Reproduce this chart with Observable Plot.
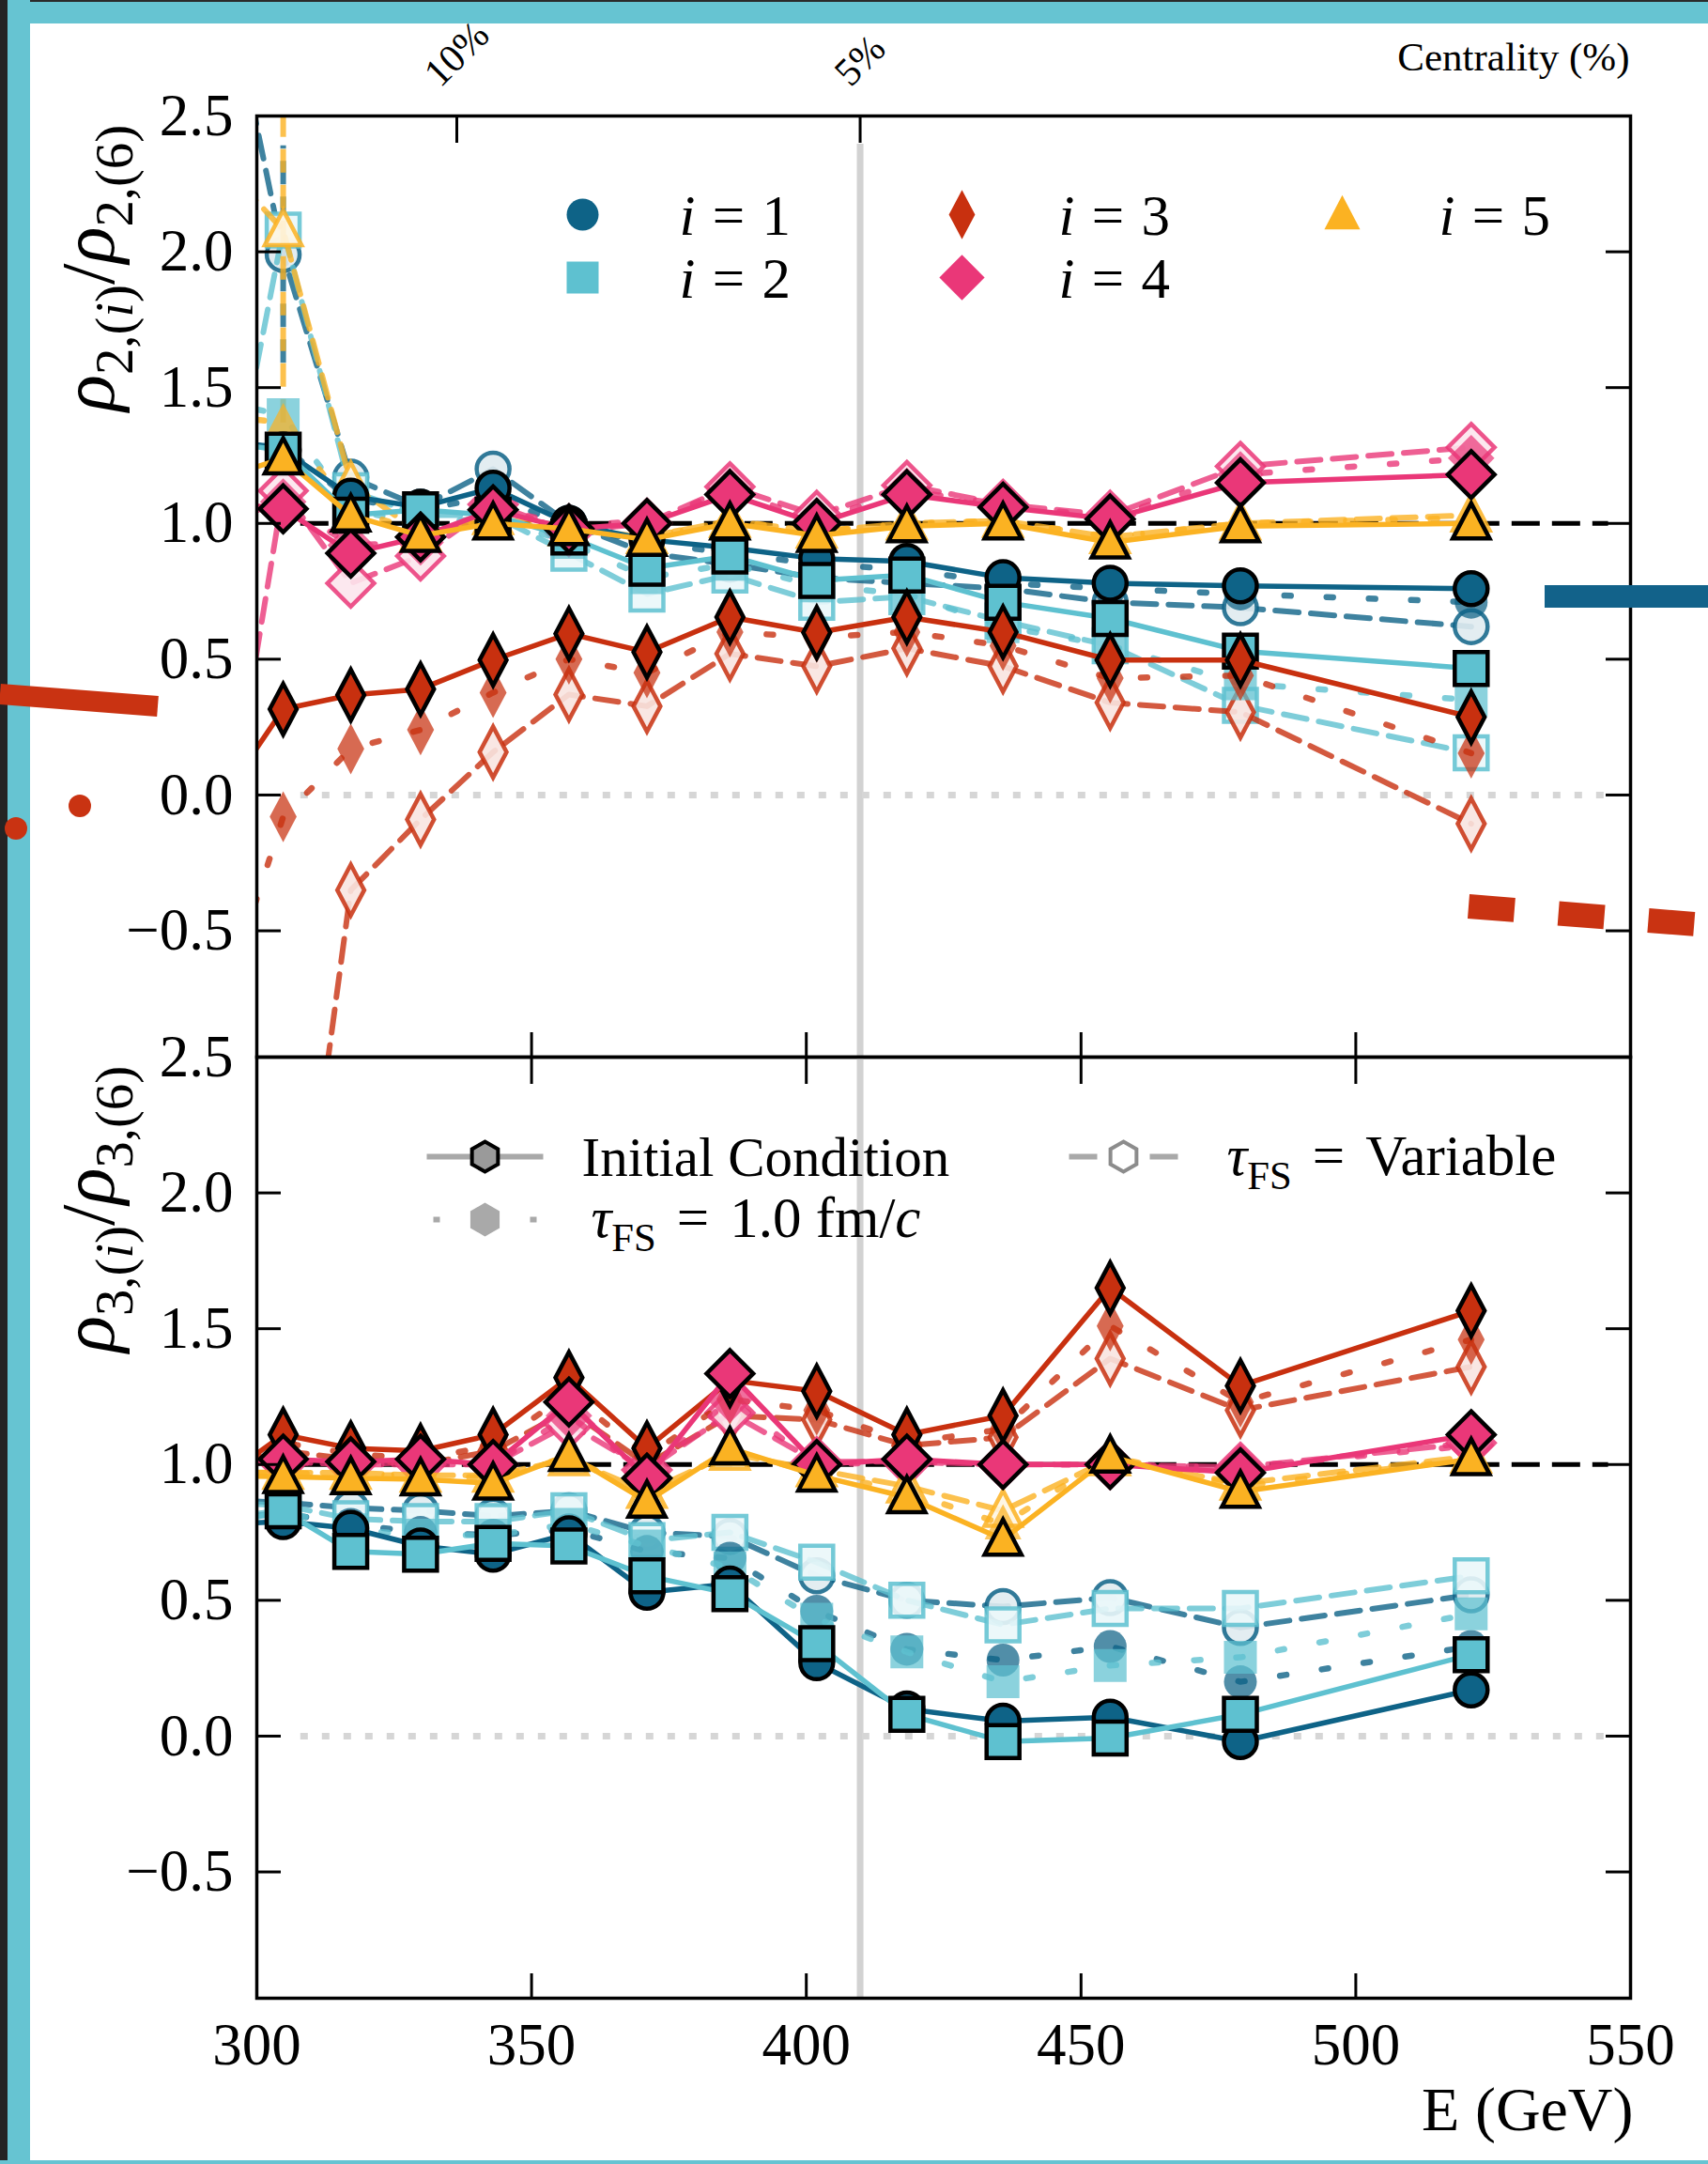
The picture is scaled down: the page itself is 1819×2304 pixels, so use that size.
<!DOCTYPE html>
<html>
<head>
<meta charset="utf-8">
<title>ρ ratios versus collision energy</title>
<script src="https://cdn.jsdelivr.net/npm/d3@7"></script>
<script src="https://cdn.jsdelivr.net/npm/@observablehq/plot@0.6"></script>
<style>
  html, body { margin: 0; padding: 0; background: #fff; }
  #page { position: relative; width: 1819px; height: 2304px; overflow: hidden; background: #fff; }
  #page .edge { position: absolute; }
  #page svg.panel { position: absolute; left: 0; overflow: visible; max-width: none; }
  #decor { position: absolute; left: 0; top: 0; pointer-events: none; }
</style>
</head>
<body>
<div id="page">
  <div class="edge" style="left:0;top:0;width:1819px;height:25px;background:#66c4d2;border-top:2px solid #2b2b2b;box-sizing:border-box"></div>
  <div class="edge" style="left:0;top:0;width:8px;height:2304px;background:#242424"></div>
  <div class="edge" style="left:8px;top:0;width:24px;height:2304px;background:#66c4d2"></div>
  <div class="edge" style="left:0;top:2300px;width:1819px;height:4px;background:#66c4d2"></div>
</div>
<script>
// ---------------------------------------------------------------------------
// Data: collision energy (GeV) and the ratios rho_{n,(i)} / rho_{n,(6)}
// for i = 1..5, for three set-ups: initial condition, tau_FS = 1.0 fm/c,
// and variable free-streaming time.
// ---------------------------------------------------------------------------
const energy = [292.5, 304.8, 317.1, 329.8, 343.0, 356.8, 371.0, 386.1, 401.9, 418.3, 435.8, 455.3, 479.0, 521.0];

const xTicks = [300, 350, 400, 450, 500, 550];
const xInnerTicks = [350, 400, 450, 500];
const yTicks = [-0.5, 0, 0.5, 1, 1.5, 2, 2.5];
const centralityLabels = ["10%", "5%"];
const centralityEnergy = [336.4, 409.8];
const seriesLabels = ["i = 1", "i = 2", "i = 3", "i = 4", "i = 5"];
const setupLabels = ["Initial Condition", "τFS = 1.0 fm/c", "τFS = Variable"];

// rho_2 ratios (upper panel)
const rho2_i1_init = [1.32, 1.27, 1.10, 1.06, 1.13, 1.00, 0.94, 0.91, 0.87, 0.86, 0.80, 0.78, 0.77, 0.76];
const rho2_i1_fs   = [1.30, 1.28, 1.09, 1.05, 1.10, 0.99, 0.93, 0.89, 0.85, 0.83, 0.78, 0.76, 0.74, 0.71];
const rho2_i1_var  = [3.20, 1.99, 1.17, 1.06, 1.20, 1.00, 0.89, 0.85, 0.80, 0.78, 0.76, 0.71, 0.69, 0.62];
const rho2_i2_init = [1.30, 1.27, 1.03, 1.05, 1.03, 0.95, 0.835, 0.88, 0.79, 0.81, 0.71, 0.65, 0.53, 0.466];
const rho2_i2_fs   = [1.45, 1.40, 1.05, 1.00, 1.02, 0.93, 0.80, 0.85, 0.77, 0.74, 0.62, 0.55, 0.41, 0.35];
const rho2_i2_var  = [0.80, 2.08, 1.12, 1.03, 1.03, 0.89, 0.74, 0.81, 0.71, 0.73, 0.64, 0.55, 0.33, 0.155];
const rho2_i3_init = [-0.05, 0.316, 0.368, 0.39, 0.497, 0.594, 0.526, 0.655, 0.598, 0.655, 0.60, 0.497, 0.497, 0.287];
const rho2_i3_fs   = [-0.85, -0.08, 0.17, 0.24, 0.377, 0.50, 0.45, 0.60, 0.58, 0.60, 0.55, 0.43, 0.44, 0.154];
const rho2_i3_var  = [-4.0, -2.2, -0.35, -0.09, 0.158, 0.37, 0.327, 0.52, 0.474, 0.54, 0.474, 0.34, 0.305, -0.106];
const rho2_i4_init = [1.08, 1.054, 0.89, 0.95, 1.05, 0.98, 1.00, 1.106, 1.00, 1.106, 1.06, 1.016, 1.15, 1.18];
const rho2_i4_fs   = [1.00, 1.08, 0.92, 0.93, 1.06, 0.99, 1.01, 1.12, 1.01, 1.12, 1.07, 1.02, 1.18, 1.24];
const rho2_i4_var  = [-0.40, 1.12, 0.78, 0.88, 1.07, 0.97, 1.00, 1.135, 1.03, 1.14, 1.07, 1.03, 1.21, 1.28];
const rho2_i5_init = [1.16, 1.24, 1.03, 0.955, 1.00, 0.98, 0.94, 1.00, 0.955, 0.99, 1.00, 0.93, 0.99, 1.00];
const rho2_i5_fs   = [1.40, 1.37, 1.05, 0.97, 1.01, 0.99, 0.95, 1.01, 0.97, 1.00, 1.01, 0.95, 1.00, 1.02];
const rho2_i5_var  = [2.35, 2.08, 1.15, 0.96, 1.02, 0.98, 0.95, 1.01, 0.97, 1.00, 1.01, 0.95, 1.00, 1.03];
// statistical uncertainty on the variable-tau points (only the first bin is sizeable)
const rho2_i1_var_err = [0, 0.40, 0, 0, 0, 0, 0, 0, 0, 0, 0, 0, 0, 0];
const rho2_i5_var_err = [0, 0.71, 0, 0, 0, 0, 0, 0, 0, 0, 0, 0, 0, 0];

// rho_3 ratios (lower panel)
const rho3_i1_init = [0.78, 0.79, 0.765, 0.70, 0.67, 0.745, 0.53, 0.56, 0.27, 0.10, 0.055, 0.07, -0.02, 0.17];
const rho3_i1_fs   = [0.80, 0.82, 0.78, 0.75, 0.74, 0.76, 0.68, 0.655, 0.46, 0.32, 0.28, 0.33, 0.20, 0.33];
const rho3_i1_var  = [0.87, 0.86, 0.84, 0.83, 0.81, 0.83, 0.75, 0.735, 0.59, 0.50, 0.477, 0.51, 0.40, 0.52];
const rho3_i2_init = [0.77, 0.83, 0.68, 0.67, 0.71, 0.70, 0.59, 0.525, 0.34, 0.08, -0.02, -0.007, 0.08, 0.30];
const rho3_i2_fs   = [0.80, 0.83, 0.76, 0.74, 0.74, 0.78, 0.70, 0.62, 0.43, 0.31, 0.20, 0.26, 0.29, 0.45];
const rho3_i2_var  = [0.86, 0.85, 0.80, 0.79, 0.79, 0.83, 0.72, 0.75, 0.64, 0.50, 0.41, 0.47, 0.47, 0.59];
const rho3_i3_init = [0.93, 1.11, 1.06, 1.05, 1.11, 1.32, 1.06, 1.31, 1.27, 1.11, 1.18, 1.65, 1.29, 1.566];
const rho3_i3_fs   = [0.95, 1.08, 1.04, 1.02, 1.07, 1.26, 1.03, 1.24, 1.20, 1.08, 1.13, 1.51, 1.23, 1.46];
const rho3_i3_var  = [0.97, 1.05, 1.02, 1.00, 1.05, 1.20, 1.00, 1.18, 1.165, 1.07, 1.10, 1.39, 1.20, 1.36];
const rho3_i4_init = [1.00, 1.02, 1.01, 1.02, 1.00, 1.23, 0.95, 1.335, 1.00, 1.02, 1.00, 1.00, 0.97, 1.11];
const rho3_i4_fs   = [1.00, 1.01, 1.00, 1.01, 1.00, 1.18, 0.97, 1.24, 1.00, 1.01, 1.00, 1.00, 0.99, 1.07];
const rho3_i4_var  = [1.00, 1.01, 1.00, 1.00, 1.00, 1.15, 0.98, 1.19, 1.01, 1.01, 1.00, 1.00, 0.99, 1.08];
const rho3_i5_init = [0.96, 0.955, 0.95, 0.946, 0.93, 1.036, 0.864, 1.06, 0.96, 0.88, 0.724, 1.03, 0.90, 1.02];
const rho3_i5_fs   = [0.97, 0.97, 0.96, 0.96, 0.95, 1.03, 0.88, 1.05, 0.97, 0.90, 0.78, 1.03, 0.92, 1.02];
const rho3_i5_var  = [0.97, 0.97, 0.97, 0.96, 0.96, 1.02, 0.90, 1.04, 0.98, 0.92, 0.83, 1.02, 0.93, 1.03];

// ---------------------------------------------------------------------------
// Layout and style
// ---------------------------------------------------------------------------
const PAGE_W = 1819;
const LEFT = 273, RIGHT = 1736;           // frame edges (px)
const TOP1 = 123, SPLIT = 1125, BOTTOM2 = 2127;
const PLOT_W = RIGHT - LEFT, PLOT_H = SPLIT - TOP1;
const TICK = 26;
const X_DOMAIN = [300, 550];
const Y_DOMAIN = [-0.965, 2.5];
const SERIF = "'Liberation Serif', 'Times New Roman', 'DejaVu Serif', serif";
const TICK_FS = 63, LEGEND_FS = 59;
const MARKER_R = 17.5;

const COLORS = ["#0e6387", "#5ec1d0", "#c8300f", "#ea3778", "#fbb222"];

// marker shapes: symbol objects whose size is r²π
const sym = f => ({draw(ctx, size) { f(ctx, Math.sqrt(size / Math.PI)); }});
const circleSym = sym((c, r) => { c.moveTo(r, 0); c.arc(0, 0, r, 0, 2 * Math.PI); });
const squareSym = sym((c, r) => { const h = 1.0 * r; c.rect(-h, -h, 2 * h, 2 * h); });
const thinDiamondSym = sym((c, r) => { const w = 0.82 * r, h = 1.55 * r; c.moveTo(0, -h); c.lineTo(w, 0); c.lineTo(0, h); c.lineTo(-w, 0); c.closePath(); });
const diamondSym = sym((c, r) => { const h = 1.42 * r; c.moveTo(0, -h); c.lineTo(h, 0); c.lineTo(0, h); c.lineTo(-h, 0); c.closePath(); });
const triangleSym = sym((c, r) => { c.moveTo(0, -1.22 * r); c.lineTo(1.12 * r, 0.92 * r); c.lineTo(-1.12 * r, 0.92 * r); c.closePath(); });
const hexagonSym = sym((c, r) => {
  for (let k = 0; k < 6; ++k) {
    const a = (-90 + 60 * k) * Math.PI / 180;
    k ? c.lineTo(r * Math.cos(a), r * Math.sin(a)) : c.moveTo(r * Math.cos(a), r * Math.sin(a));
  }
  c.closePath();
});
const hLine = half => ({draw(ctx) { ctx.moveTo(-half, 0); ctx.lineTo(half, 0); }});
const SHAPES = [circleSym, squareSym, thinDiamondSym, diamondSym, triangleSym];

const tint = (color, t) => d3.interpolateRgb("#ffffff", color)(t);

const LINE_STYLE = {
  init: {strokeWidth: 5.5},
  fs:   {strokeWidth: 6.5, strokeOpacity: 0.8, strokeDasharray: "7,38"},
  vary: {strokeWidth: 6, strokeOpacity: 0.8, strokeDasharray: "25,13"}
};
const dotStyle = (cond, color) => cond === "init"
  ? {fill: color, stroke: "black", strokeWidth: 4.5}
  : cond === "fs"
  ? {fill: color, fillOpacity: 0.72}
  : {fill: tint(color, 0.13), fillOpacity: 0.9, stroke: color, strokeOpacity: 0.85, strokeWidth: 4.5};

// series grouped per harmonic
const rho2Series = [
  {init: rho2_i1_init, fs: rho2_i1_fs, vary: rho2_i1_var, err: rho2_i1_var_err},
  {init: rho2_i2_init, fs: rho2_i2_fs, vary: rho2_i2_var},
  {init: rho2_i3_init, fs: rho2_i3_fs, vary: rho2_i3_var},
  {init: rho2_i4_init, fs: rho2_i4_fs, vary: rho2_i4_var},
  {init: rho2_i5_init, fs: rho2_i5_fs, vary: rho2_i5_var, err: rho2_i5_var_err}
];
const rho3Series = [
  {init: rho3_i1_init, fs: rho3_i1_fs, vary: rho3_i1_var},
  {init: rho3_i2_init, fs: rho3_i2_fs, vary: rho3_i2_var},
  {init: rho3_i3_init, fs: rho3_i3_fs, vary: rho3_i3_var},
  {init: rho3_i4_init, fs: rho3_i4_fs, vary: rho3_i4_var},
  {init: rho3_i5_init, fs: rho3_i5_fs, vary: rho3_i5_var}
];

function seriesMarks(table) {
  const marks = [];
  for (const cond of ["vary", "fs", "init"]) {
    table.forEach((row, s) => {
      const color = COLORS[s];
      const data = energy.map((E, k) => ({E, v: row[cond][k], e: cond === "vary" && row.err ? row.err[k] : 0}));
      marks.push(Plot.line(data, {x: "E", y: "v", stroke: color, clip: true, ...LINE_STYLE[cond]}));
      if (cond === "vary" && row.err) {
        marks.push(Plot.ruleX(data.filter(d => d.e > 0), {
          x: "E", y1: d => d.v - d.e, y2: d => d.v + d.e, stroke: color, clip: true, ...LINE_STYLE.vary
        }));
      }
      marks.push(Plot.dot(data, {x: "E", y: "v", symbol: SHAPES[s], r: MARKER_R, clip: true, ...dotStyle(cond, color)}));
    });
  }
  return marks;
}

const fmtY = d => (d < 0 ? "\u2212" : "") + Math.abs(d).toFixed(1);

function referenceMarks(grayTop) {
  return [
    Plot.ruleX([centralityEnergy[1]], {x: d => d, y1: Y_DOMAIN[0], y2: grayTop, stroke: "#d2d2d2", strokeWidth: 7}),
    Plot.ruleY([0], {y: d => d, x1: 308, x2: 546, stroke: "#d6d6d6", strokeWidth: 7, strokeDasharray: "8,15"}),
    Plot.ruleY([1], {y: d => d, x1: 308, x2: 546, stroke: "black", strokeWidth: 5, strokeDasharray: "30,13"})
  ];
}

function frameMarks({topTicks, bottomTicks}) {
  return [
    Plot.frame({stroke: "black", strokeWidth: 3.5}),
    Plot.tickY(yTicks, {y: d => d, stroke: "black", strokeWidth: 3, insetRight: PLOT_W - TICK}),
    Plot.tickY(yTicks, {y: d => d, stroke: "black", strokeWidth: 3, insetLeft: PLOT_W - TICK}),
    Plot.tickX(topTicks, {x: d => d, stroke: "black", strokeWidth: 3, insetBottom: PLOT_H - TICK - 3}),
    Plot.tickX(bottomTicks, {x: d => d, stroke: "black", strokeWidth: 3, insetTop: PLOT_H - TICK}),
    Plot.text(yTicks, {x: X_DOMAIN[0], y: d => d, text: fmtY, textAnchor: "end", lineAnchor: "middle", dx: -25, fontSize: TICK_FS, fontFamily: SERIF})
  ];
}

function panelSvg({marks, height, marginTop, marginBottom}) {
  const svg = Plot.plot({
    width: PAGE_W, height, marginLeft: LEFT, marginRight: PAGE_W - RIGHT, marginTop, marginBottom,
    x: {domain: X_DOMAIN, axis: null},
    y: {domain: Y_DOMAIN, axis: null},
    style: {background: "transparent", fontFamily: SERIF, overflow: "visible"},
    marks
  });
  svg.classList.add("panel");
  return svg;
}

// ---- upper panel: rho_2 ------------------------------------------------------
const LEG_COL = [347, 751, 1156], LEG_ROW = [105, 172], LEG_GAP = 103;
const legendSlots = [[0, 0], [0, 1], [1, 0], [1, 1], [2, 0]];
const topLegend = seriesLabels.flatMap((label, s) => {
  const [col, row] = legendSlots[s];
  const dx = LEG_COL[col], dy = LEG_ROW[row];
  return [
    Plot.dot([label], {frameAnchor: "top-left", dx, dy, symbol: SHAPES[s], r: 17, fill: COLORS[s]}),
    Plot.text([label], {frameAnchor: "top-left", dx: dx + LEG_GAP, dy: dy + 2, text: d => d, textAnchor: "start", lineAnchor: "middle", fontSize: 61, fontFamily: SERIF})
  ];
});

// centrality labels along the top edge, tilted
const centralityMarks = centralityLabels.map((label, k) => Plot.text([label], {
  x: centralityEnergy[k], y: Y_DOMAIN[1], text: d => d, rotate: -45, lineAnchor: "middle",
  dy: -(45 + 7 * label.length), fontSize: 42, fontFamily: SERIF
}));

const topSvg = panelSvg({
  height: SPLIT + 5, marginTop: TOP1, marginBottom: 5,
  marks: [
    ...referenceMarks(2.396),
    ...seriesMarks(rho2Series),
    ...topLegend,
    ...frameMarks({topTicks: centralityEnergy, bottomTicks: xInnerTicks}),
    ...centralityMarks,
    Plot.text(["Centrality (%)"], {frameAnchor: "top-right", dx: -1, dy: -62, text: d => d, textAnchor: "end", lineAnchor: "middle", fontSize: 43, fontFamily: SERIF}),
    Plot.text(["ρ2,(i)/ρ2,(6)"], {x: X_DOMAIN[0], y: 1.94, dx: -178, rotate: -90, lineAnchor: "middle", text: d => d, fontSize: 81, fontFamily: SERIF})
  ]
});
topSvg.style.top = "0px";

// ---- lower panel: rho_3 ------------------------------------------------------
const legendText = (label, dx, dy, fontSize) => Plot.text([label], {
  frameAnchor: "top-left", dx, dy, text: d => d, textAnchor: "start", lineAnchor: "middle", fontSize, fontFamily: SERIF
});
const setupLegend = [
  // initial condition
  Plot.dot([0], {frameAnchor: "top-left", dx: 243, dy: 106, symbol: hLine(62), stroke: "#a9a9a9", strokeWidth: 6}),
  Plot.dot([0], {frameAnchor: "top-left", dx: 243, dy: 106, symbol: hexagonSym, r: 16, fill: "#9a9a9a", stroke: "black", strokeWidth: 4}),
  // tau_FS = 1.0 fm/c
  Plot.dot([0], {frameAnchor: "top-left", dx: 243, dy: 173, symbol: hLine(55), stroke: "#a9a9a9", strokeWidth: 6, strokeDasharray: "7,44.5"}),
  Plot.dot([0], {frameAnchor: "top-left", dx: 243, dy: 173, symbol: hexagonSym, r: 18, fill: "#a9a9a9"}),
  // variable tau_FS
  Plot.dot([0], {frameAnchor: "top-left", dx: 923, dy: 106, symbol: hLine(58), stroke: "#a9a9a9", strokeWidth: 6, strokeDasharray: "30,13"}),
  Plot.dot([0], {frameAnchor: "top-left", dx: 923, dy: 106, symbol: hexagonSym, r: 16, fill: "white", stroke: "#8c8c8c", strokeWidth: 4}),
  legendText(setupLabels[0], 346, 108, LEGEND_FS),
  legendText(setupLabels[1], 356, 172, 61),
  legendText(setupLabels[2], 1033, 106, 61)
];

const bottomSvg = panelSvg({
  height: 2304 - (SPLIT - 5), marginTop: 5, marginBottom: 2304 - BOTTOM2,
  marks: [
    ...referenceMarks(Y_DOMAIN[1]),
    ...seriesMarks(rho3Series),
    ...setupLegend,
    ...frameMarks({topTicks: xInnerTicks, bottomTicks: xInnerTicks}),
    Plot.text(xTicks, {x: d => d, y: Y_DOMAIN[0], text: d => String(d), lineAnchor: "middle", dy: 50, fontSize: TICK_FS, fontFamily: SERIF}),
    Plot.text(["E (GeV)"], {frameAnchor: "bottom-right", dx: 3, dy: 119, text: d => d, textAnchor: "end", lineAnchor: "middle", fontSize: 66, fontFamily: SERIF}),
    Plot.text(["ρ3,(i)/ρ3,(6)"], {x: X_DOMAIN[0], y: 1.94, dx: -178, rotate: -90, lineAnchor: "middle", text: d => d, fontSize: 81, fontFamily: SERIF})
  ]
});
bottomSvg.style.top = (SPLIT - 5) + "px";

const page = document.getElementById("page");
page.append(topSvg, bottomSvg);

// ---- math-style text: italic symbols, subscripts, spaced relations -------------
const RICH = new Map([
  ...seriesLabels.map(l => [l, [["i", "it"], ["=", "op"], [l.slice(4), "n"]]]),
  ["τFS = 1.0 fm/c", [["τ", "it"], ["FS", "sub"], ["=", "op"], ["1.0 fm/", "n"], ["c", "it"]]],
  ["τFS = Variable", [["τ", "it"], ["FS", "sub"], ["=", "op"], ["Variable", "n"]]],
  ["ρ2,(i)/ρ2,(6)", [["ρ", "it"], ["2,(", "sub"], ["i", "subit"], [")", "sub"], ["/", "n"], ["ρ", "it"], ["2,(6)", "sub"]]],
  ["ρ3,(i)/ρ3,(6)", [["ρ", "it"], ["3,(", "sub"], ["i", "subit"], [")", "sub"], ["/", "n"], ["ρ", "it"], ["3,(6)", "sub"]]]
]);
for (const svg of [topSvg, bottomSvg]) {
  d3.select(svg).selectAll("text").each(function () {
    const segs = RICH.get(this.textContent);
    if (!segs) return;
    const fs = parseFloat(getComputedStyle(this).fontSize);
    const opGap = (segs[0][0] === "i" ? 0.3 : 0.36) * fs;
    const t = d3.select(this).text(null);
    let shift = 0, pad = 0;
    for (const [str, kind] of segs) {
      const sub = kind.startsWith("sub");
      const target = sub ? 0.24 * fs : 0;
      const span = t.append("tspan").text(str);
      if (kind.endsWith("it")) span.attr("font-style", "italic");
      if (sub) span.attr("font-size", 0.7 * fs);
      if (target !== shift) { span.attr("dy", target - shift); shift = target; }
      const dx = pad + (kind === "op" ? opGap : 0);
      if (dx) span.attr("dx", dx);
      pad = kind === "op" ? opGap : 0;
    }
  });
}

// ---- loose strokes lying across the page margins ------------------------------
const decor = d3.select(page).append("svg").attr("id", "decor").attr("width", PAGE_W).attr("height", 2304);
decor.append("line").attr("x1", 0).attr("y1", 739).attr("x2", 168).attr("y2", 752)
  .attr("stroke", "#c93312").attr("stroke-width", 22);
decor.selectAll("circle").data([[17, 882], [85, 858]]).join("circle")
  .attr("cx", d => d[0]).attr("cy", d => d[1]).attr("r", 12).attr("fill", "#c93312");
decor.append("line").attr("x1", 1645).attr("y1", 635).attr("x2", 1819).attr("y2", 635)
  .attr("stroke", "#12628a").attr("stroke-width", 24);
decor.append("line").attr("x1", 1564).attr("y1", 965).attr("x2", 1806).attr("y2", 984)
  .attr("stroke", "#c93312").attr("stroke-width", 26).attr("stroke-dasharray", "49,47");
</script>
</body>
</html>
